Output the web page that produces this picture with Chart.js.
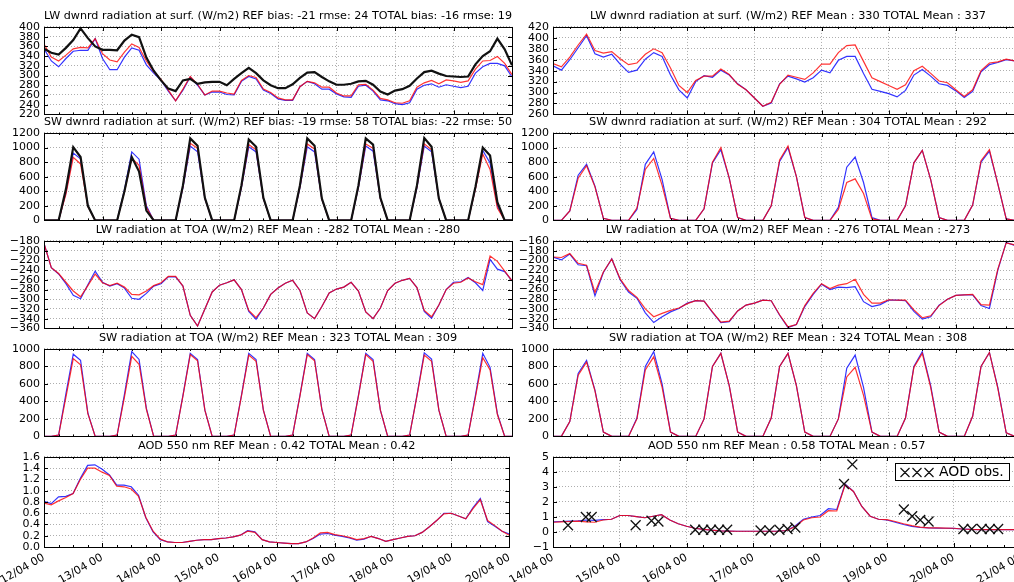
<!DOCTYPE html>
<html>
<head>
<meta charset="utf-8">
<script src="https://cdn.jsdelivr.net/npm/chart.js@4.4.0/dist/chart.umd.min.js"></script>
<style>
  html, body { margin: 0; padding: 0; overflow: hidden; background: #fff; }
  #wrap { position: relative; width: 1014px; height: 582px; overflow: hidden; }
  #wrap canvas { position: absolute; }
</style>
</head>
<body>
<div id="wrap"></div>
<script>
// time axis: 3-hourly values, x = hours after the first tick of the column
const hoursLeft = Array.from({length: 65}, (_, i) => i * 3);
const hoursRight = Array.from({length: 57}, (_, i) => i * 3);
const dayLabelsLeft = ['12/04 00', '13/04 00', '14/04 00', '15/04 00', '16/04 00', '17/04 00', '18/04 00', '19/04 00', '20/04 00'];
const dayLabelsRight = ['14/04 00', '15/04 00', '16/04 00', '17/04 00', '18/04 00', '19/04 00', '20/04 00', '21/04 00'];

const titles = [
  'LW dwnrd radiation at surf. (W/m2) REF bias: -21 rmse: 24 TOTAL bias: -16 rmse: 19',
  'LW dwnrd radiation at surf. (W/m2) REF Mean : 330 TOTAL Mean : 337',
  'SW dwnrd radiation at surf. (W/m2) REF bias: -19 rmse: 58 TOTAL bias: -22 rmse: 50',
  'SW dwnrd radiation at surf. (W/m2) REF Mean : 304 TOTAL Mean : 292',
  'LW radiation at TOA (W/m2) REF Mean : -282 TOTAL Mean : -280',
  'LW radiation at TOA (W/m2) REF Mean : -276 TOTAL Mean : -273',
  'SW radiation at TOA (W/m2) REF Mean : 323 TOTAL Mean : 309',
  'SW radiation at TOA (W/m2) REF Mean : 324 TOTAL Mean : 308',
  'AOD 550 nm REF Mean : 0.42 TOTAL Mean : 0.42',
  'AOD 550 nm REF Mean : 0.58 TOTAL Mean : 0.57'
];

// ---- left column (12/04 - 20/04) ----
const lwSurfObsL = [355,347,343,357,373,397,377,360,353,353,352,372,384,379,337,310,290,273,268,290,293,283,286,287,287,280,293,305,316,305,290,280,274,274,282,295,306,307,297,288,281,281,283,288,289,281,267,261,269,272,279,294,307,310,304,299,298,297,298,323,340,350,376,354,321];
const lwSurfRefL = [355,330,318,335,350,352,352,376,335,312,312,338,357,352,322,305,290,268,248,270,297,280,260,266,266,261,260,288,298,293,270,263,252,249,249,277,288,283,272,272,262,256,255,278,280,268,250,248,242,240,244,272,280,283,276,281,278,275,278,305,318,325,325,320,297];
const lwSurfTotL = [365,338,330,342,355,358,357,376,345,332,328,348,365,358,330,308,292,270,248,272,298,282,260,268,268,264,262,290,300,296,272,265,254,250,250,277,288,285,276,276,264,258,258,281,282,270,253,250,244,243,248,276,285,290,283,291,289,286,289,313,330,331,339,325,302];

const swSurfObsL = [
  0,0,0,430,1005,870,200,0, 0,0,0,400,870,670,135,0, 0,0,0,480,1125,1025,310,0, 0,0,0,480,1110,1010,310,0,
  0,0,0,480,1125,1025,300,0, 0,0,0,480,1125,1040,310,0, 0,0,0,480,1130,1010,300,0, 0,0,0,460,1000,890,250,0, 0];
const swSurfRefL = [
  0,0,0,380,925,845,200,0, 0,0,0,420,940,840,200,0, 0,0,0,450,1020,940,300,0, 0,0,0,450,1010,940,300,0,
  0,0,0,450,1010,940,290,0, 0,0,0,450,1020,950,300,0, 0,0,0,450,1020,940,300,0, 0,0,0,440,960,790,200,0, 0];
const swSurfTotL = [
  0,0,0,360,865,775,190,0, 0,0,0,390,855,755,180,0, 0,0,0,460,1060,990,300,0, 0,0,0,460,1040,970,300,0,
  0,0,0,460,1050,980,290,0, 0,0,0,460,1050,990,300,0, 0,0,0,460,1050,970,300,0, 0,0,0,430,910,700,170,0, 0];

const lwToaRefL = [-185,-235,-248,-268,-292,-299,-270,-242,-265,-273,-268,-277,-298,-300,-288,-273,-268,-254,-254,-273,-333,-355,-320,-285,-271,-266,-260,-280,-325,-341,-318,-290,-277,-267,-261,-282,-328,-340,-315,-287,-279,-275,-265,-283,-326,-340,-318,-282,-267,-261,-257,-276,-325,-339,-312,-280,-265,-264,-255,-266,-282,-218,-238,-243,-262];
const lwToaTotL = [-185,-235,-247,-265,-283,-295,-272,-248,-266,-272,-267,-275,-290,-291,-283,-272,-266,-253,-253,-273,-333,-355,-320,-285,-271,-266,-260,-280,-323,-338,-318,-290,-277,-267,-261,-282,-328,-340,-315,-287,-279,-275,-265,-283,-326,-340,-318,-282,-267,-261,-257,-276,-323,-336,-312,-280,-267,-265,-256,-264,-270,-211,-222,-242,-262];

const swToaRefL = [
  0,0,15,490,940,870,265,0, 0,0,15,480,970,880,320,0, 0,0,15,470,950,880,300,0, 0,0,15,470,950,880,300,0,
  0,0,15,470,950,880,310,0, 0,0,15,470,950,880,300,0, 0,0,15,470,955,885,300,0, 0,0,15,470,950,790,260,0, 0];
const swToaTotL = [
  0,0,15,450,890,820,260,0, 0,0,15,450,915,825,310,0, 0,0,15,460,935,865,300,0, 0,0,15,460,930,860,300,0,
  0,0,15,460,935,865,305,0, 0,0,15,460,935,860,300,0, 0,0,15,460,930,860,300,0, 0,0,15,450,900,760,250,0, 0];

const aodRefL = [0.81,0.77,0.89,0.90,0.95,1.22,1.45,1.46,1.38,1.28,1.10,1.10,1.07,0.92,0.52,0.27,0.13,0.09,0.08,0.08,0.10,0.12,0.13,0.13,0.15,0.16,0.18,0.21,0.29,0.27,0.13,0.09,0.08,0.07,0.06,0.06,0.09,0.15,0.23,0.24,0.21,0.19,0.16,0.12,0.14,0.19,0.15,0.10,0.13,0.16,0.19,0.20,0.26,0.36,0.47,0.60,0.60,0.55,0.50,0.70,0.86,0.45,0.37,0.28,0.23];
const aodTotL = [0.78,0.75,0.82,0.88,0.95,1.20,1.40,1.40,1.33,1.27,1.08,1.07,1.03,0.90,0.53,0.28,0.14,0.09,0.08,0.08,0.10,0.12,0.13,0.13,0.15,0.16,0.18,0.21,0.28,0.26,0.13,0.09,0.08,0.07,0.06,0.06,0.09,0.16,0.25,0.26,0.22,0.20,0.17,0.13,0.15,0.19,0.15,0.10,0.13,0.16,0.19,0.20,0.26,0.36,0.47,0.59,0.60,0.55,0.50,0.68,0.84,0.47,0.38,0.28,0.21];

// ---- right column (14/04 - 21/04) ----
const lwSurfRefR = [349,341,360,382,404,371,365,370,352,337,341,361,373,366,332,305,290,320,331,328,341,332,316,305,290,275,281,316,330,325,319,327,341,336,359,366,366,335,306,302,298,292,304,332,342,330,316,313,303,291,302,338,351,355,360,358,358];
const lwSurfTotR = [353,347,365,387,407,377,372,375,362,351,354,370,380,373,345,313,300,322,330,330,343,333,315,305,290,275,282,315,332,328,324,336,352,352,373,386,387,357,327,320,313,306,314,340,348,335,321,318,305,293,305,340,354,356,361,358,358];

const swSurfRefR = [
  0,0,130,620,770,470,30,0, 0,0,150,770,940,560,30,0, 0,0,160,790,970,580,40,0, 0,0,200,810,1000,600,40,0,
  0,0,180,730,870,520,40,0, 0,0,200,790,960,560,40,0, 0,0,210,800,950,500,20,0, 0];
const swSurfTotR = [
  0,0,130,580,750,460,30,0, 0,0,170,700,850,480,30,0, 0,0,160,800,1000,580,40,0, 0,0,200,830,1020,600,40,0,
  0,0,150,520,570,370,20,0, 0,0,200,790,960,560,40,0, 0,0,210,820,970,500,20,0, 0];

const lwToaRefR = [-193,-199,-187,-209,-211,-273,-225,-197,-240,-265,-278,-308,-328,-316,-306,-299,-288,-283,-284,-307,-328,-326,-304,-292,-288,-282,-283,-313,-338,-332,-295,-270,-249,-260,-255,-256,-254,-285,-295,-291,-282,-282,-283,-305,-321,-316,-292,-280,-272,-271,-271,-293,-299,-220,-163,-169,-171];
const lwToaTotR = [-193,-194,-186,-206,-210,-266,-224,-197,-238,-262,-276,-300,-316,-309,-303,-298,-289,-283,-284,-306,-327,-325,-304,-292,-288,-282,-283,-312,-337,-332,-293,-268,-248,-258,-251,-248,-239,-270,-288,-288,-281,-282,-282,-302,-318,-314,-293,-280,-272,-271,-270,-291,-292,-218,-164,-168,-170];

const swToaRefR = [
  0,0,170,720,870,530,50,0, 0,0,210,800,970,600,50,0, 0,0,200,800,950,580,50,0, 0,0,210,800,950,580,50,0,
  0,0,200,780,930,560,50,0, 0,0,210,800,970,580,50,0, 0,0,230,800,960,560,40,0, 0];
const swToaTotR = [
  0,0,170,700,850,520,50,0, 0,0,200,760,910,560,50,0, 0,0,200,800,950,580,50,0, 0,0,210,800,950,580,50,0,
  0,0,200,680,790,470,50,0, 0,0,210,790,950,560,50,0, 0,0,230,800,960,550,40,0, 0];

const aodRefR = [0.68,0.70,0.72,0.74,0.80,0.78,0.82,0.85,1.10,1.10,1.02,0.95,1.05,1.15,0.80,0.55,0.38,0.25,0.18,0.12,0.08,0.06,0.05,0.05,0.05,0.05,0.05,0.05,0.10,0.40,0.85,1.00,1.10,1.55,1.50,3.20,2.70,1.70,1.05,0.85,0.80,0.65,0.50,0.38,0.30,0.27,0.26,0.25,0.24,0.20,0.17,0.16,0.16,0.16,0.16,0.16,0.16];
const aodTotR = [0.65,0.68,0.70,0.72,0.68,0.65,0.80,0.85,1.10,1.10,1.02,0.95,1.05,1.15,0.80,0.55,0.38,0.25,0.18,0.12,0.08,0.06,0.05,0.05,0.05,0.05,0.05,0.05,0.10,0.35,0.80,0.95,1.00,1.42,1.40,3.15,2.70,1.70,1.05,0.85,0.82,0.70,0.55,0.42,0.33,0.28,0.27,0.26,0.25,0.20,0.17,0.16,0.16,0.16,0.16,0.16,0.16];

// AOD observations (hours after 14/04 00)
const obsHours = [5.4, 11.8, 13.9, 29.7, 35.4, 37.9, 51.1, 54.0, 56.8, 59.7, 62.6, 74.6, 77.8, 81.4, 84.3, 87.1, 104.6, 107.6, 126.1, 129.1, 132.0, 135.0, 147.5, 150.5, 154.1, 157.0, 160.0];
const obsAod = [0.45, 1.0, 1.0, 0.45, 0.75, 0.7, 0.15, 0.15, 0.15, 0.15, 0.15, 0.1, 0.1, 0.15, 0.2, 0.3, 3.2, 4.5, 1.5, 1.05, 0.8, 0.7, 0.2, 0.2, 0.2, 0.2, 0.2];

// ---- drawing ----
Chart.defaults.font.family = '"DejaVu Sans", sans-serif';
Chart.defaults.font.size = 11;
Chart.defaults.color = '#000';

const wrap = document.getElementById('wrap');
const TOPS = [27, 133, 241, 349, 457];   // top of each plot area
const PLOT_H = 90;
const BLUE = 'rgba(0,0,255,0.8)';
const RED = 'rgba(255,0,0,0.8)';

const minus = v => (v < 0 ? '\u2212' : '') + Math.abs(v);
const fmtInt = v => minus(Math.round(v));
const fmt1 = v => (v < -1e-9 ? '\u2212' : '') + Math.abs(v).toFixed(1);

const line = (data, color, w) => ({ data, borderColor: color, borderWidth: w || 1.2, pointRadius: 0, tension: 0, fill: false });

// black box round the plot + inward ticks, like matplotlib
const framePlugin = {
  id: 'frame',
  afterDraw(chart) {
    const { ctx, chartArea: a, scales: { x, y } } = chart;
    ctx.save();
    ctx.strokeStyle = '#000';
    ctx.lineWidth = 1;
    ctx.beginPath();
    y.ticks.forEach(t => {
      const py = Math.round(y.getPixelForValue(t.value)) + 0.5;
      ctx.moveTo(a.left, py); ctx.lineTo(a.left + 4, py);
      ctx.moveTo(a.right, py); ctx.lineTo(a.right - 4, py);
    });
    for (let h = x.min; h <= x.max; h += 6) {
      const px = Math.round(x.getPixelForValue(h)) + 0.5;
      const len = h % 24 === 0 ? 4 : 2;
      ctx.moveTo(px, a.top); ctx.lineTo(px, a.top + len);
      ctx.moveTo(px, a.bottom); ctx.lineTo(px, a.bottom - len);
    }
    ctx.stroke();
    ctx.strokeRect(Math.round(a.left) + 0.5, Math.round(a.top) + 0.5, Math.round(a.right - a.left), Math.round(a.bottom - a.top));
    ctx.restore();
  }
};

// legend box for the observations
const obsLegend = {
  id: 'obsLegend',
  afterDraw(chart) {
    const { ctx, chartArea: a } = chart;
    const x0 = Math.round(a.right) - 125, y0 = Math.round(a.top) + 6, w = 114, h = 17;
    ctx.save();
    ctx.fillStyle = '#fff';
    ctx.fillRect(x0, y0, w, h);
    ctx.strokeStyle = '#000';
    ctx.lineWidth = 1;
    ctx.strokeRect(x0 + 0.5, y0 + 0.5, w, h);
    ctx.strokeStyle = '#111';
    ctx.lineWidth = 1.2;
    ctx.beginPath();
    [10, 22, 34].forEach(dx => {
      const cx = x0 + dx, cy = y0 + h / 2 + 1, r = 4.5;
      ctx.moveTo(cx - r, cy - r); ctx.lineTo(cx + r, cy + r);
      ctx.moveTo(cx - r, cy + r); ctx.lineTo(cx + r, cy - r);
    });
    ctx.stroke();
    ctx.fillStyle = '#000';
    ctx.font = '14px "DejaVu Sans"';
    ctx.textBaseline = 'middle';
    ctx.fillText('AOD obs.', x0 + 44, y0 + h / 2 + 1);
    ctx.restore();
  }
};

function panel(col, row, title, yMin, yMax, yStep, datasets, fmt, extraPlugins) {
  const bottomRow = row === 4;
  const left = col === 0 ? -30 : 479;
  const width = col === 0 ? 550 : 552;
  const xAxisH = bottomRow ? 46 : 0;
  const padBottom = bottomRow ? 0 : 8;
  const cv = document.createElement('canvas');
  cv.width = width;
  cv.height = 20 + PLOT_H + xAxisH + padBottom;
  cv.style.left = left + 'px';
  cv.style.top = (TOPS[row] - 20) + 'px';
  wrap.appendChild(cv);

  const hours = col === 0 ? hoursLeft : hoursRight;
  const dayLabels = col === 0 ? dayLabelsLeft : dayLabelsRight;
  const gridOpts = { color: '#999', lineWidth: 0.8, drawTicks: false };
  const borderOpts = { display: false, dash: [1, 2] };

  return new Chart(cv, {
    type: 'line',
    data: { labels: hours, datasets },
    options: {
      responsive: false,
      animation: false,
      events: [],
      layout: { padding: { top: 2, right: 8, bottom: padBottom, left: 0 } },
      plugins: {
        legend: { display: false },
        tooltip: { enabled: false },
        title: {
          display: true, text: title, fullSize: false, color: '#000',
          font: { size: 11.3, weight: 'normal', lineHeight: 1.2 },
          padding: { top: 0, bottom: 4.4 }
        }
      },
      scales: {
        x: {
          type: 'linear', min: 0, max: hours[hours.length - 1],
          afterFit: s => { s.height = xAxisH; },
          grid: gridOpts,
          border: borderOpts,
          ticks: {
            display: bottomRow, stepSize: 24, autoSkip: false,
            minRotation: 30, maxRotation: 30, padding: 4,
            callback: v => dayLabels[Math.round(v / 24)]
          }
        },
        y: {
          min: yMin, max: yMax,
          afterFit: s => { s.width = 74; },
          grid: gridOpts,
          border: borderOpts,
          ticks: { stepSize: yStep, autoSkip: false, padding: 4, callback: fmt }
        }
      }
    },
    plugins: [framePlugin].concat(extraPlugins || [])
  });
}

const obsPoints = obsHours.map((h, i) => ({ x: h, y: obsAod[i] }));

panel(0, 0, titles[0], 220, 400, 20, [line(lwSurfObsL, '#111', 2.2), line(lwSurfTotL, RED), line(lwSurfRefL, BLUE)], fmtInt);
panel(1, 0, titles[1], 260, 420, 20, [line(lwSurfTotR, RED), line(lwSurfRefR, BLUE)], fmtInt);
panel(0, 1, titles[2], 0, 1200, 200, [line(swSurfObsL, '#111', 2.2), line(swSurfTotL, RED), line(swSurfRefL, BLUE)], fmtInt);
panel(1, 1, titles[3], 0, 1200, 200, [line(swSurfTotR, RED), line(swSurfRefR, BLUE)], fmtInt);
panel(0, 2, titles[4], -360, -180, 20, [line(lwToaTotL, RED), line(lwToaRefL, BLUE)], fmtInt);
panel(1, 2, titles[5], -340, -160, 20, [line(lwToaTotR, RED), line(lwToaRefR, BLUE)], fmtInt);
panel(0, 3, titles[6], 0, 1000, 200, [line(swToaTotL, RED), line(swToaRefL, BLUE)], fmtInt);
panel(1, 3, titles[7], 0, 1000, 200, [line(swToaTotR, RED), line(swToaRefR, BLUE)], fmtInt);
panel(0, 4, titles[8], 0, 1.6, 0.2, [line(aodTotL, RED), line(aodRefL, BLUE)], fmt1);
panel(1, 4, titles[9], -1, 5, 1, [
  { data: obsPoints, showLine: false, pointStyle: 'crossRot', pointRadius: 7, borderColor: '#111', borderWidth: 1.3, backgroundColor: 'transparent' },
  line(aodTotR, RED), line(aodRefR, BLUE)
], fmtInt, [obsLegend]);
</script>
</body>
</html>
